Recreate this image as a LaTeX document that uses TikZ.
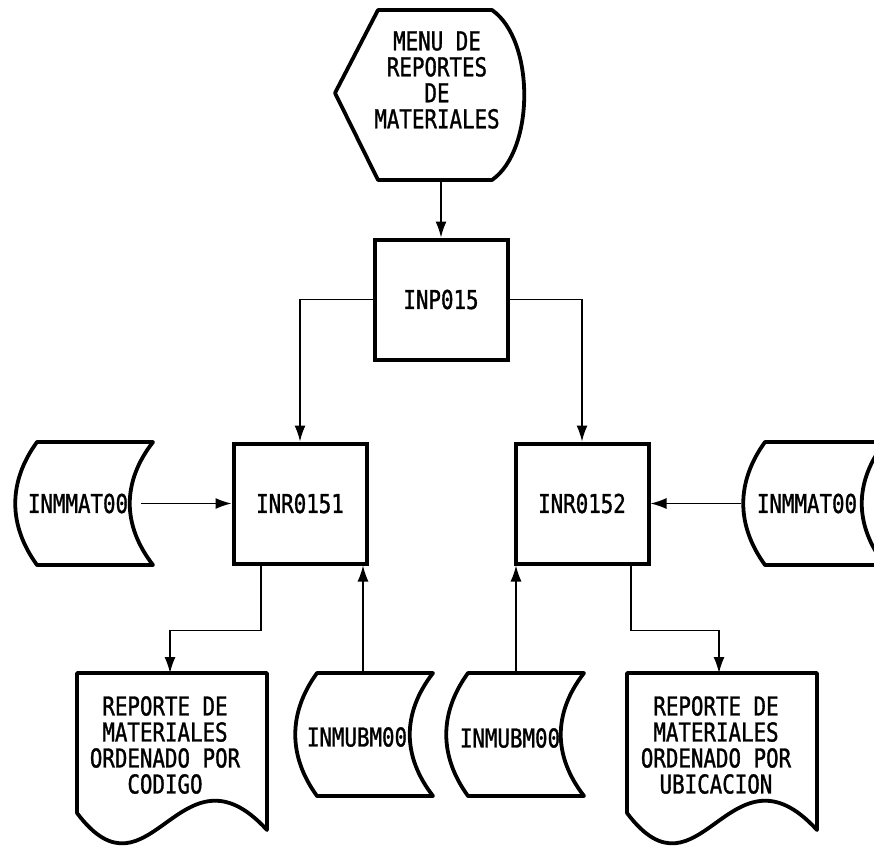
\documentclass[tikz,border=0pt]{standalone}
\usepackage{fontspec}
\setmonofont[FakeStretch=0.8,FakeBold=1.2]{DejaVu Sans Mono}
\usepackage{tikz}
\usetikzlibrary{arrows,arrows.meta}
\tikzset{arrowin/.style={<-,>={Latex[length=16pt,width=11pt]},line width=1.4pt},arrowout/.style={->,>={Latex[length=16pt,width=11pt]},line width=1.4pt},box/.style={rectangle,minimum width=133pt,minimum height=120pt,text centered,draw=black,line width=4pt},outline/.style={draw=black,line width=3.8pt,line join=round}}
\usepackage{xcolor}

\begin{document}
\begin{tikzpicture} [x=1pt,y=-1pt,align=center,inner sep=0pt,font=\ttfamily\fontsize{26}{26}\selectfont]

\useasboundingbox (0,0) rectangle (874,848);

% menu (display)
\draw[outline] (378,10) -- (492,10) .. controls (535,40) and (535,150) .. (492,180) -- (378,180) -- (335,93) -- cycle;
\node (menu) at (437,80) {MENU DE\\REPORTES\\DE\\MATERIALES};
\coordinate (menub) at (441,180);

\node (inp) at (441,299.5)[box]{INP015}
  edge [arrowin] (menub);

\node (inr1) at (300,503.5)[box]{INR0151};
\node (inr2) at (582,503.5)[box]{INR0152};
\draw[arrowout] (inp.west) -| (inr1.north);
\draw[arrowout] (inp.east) -| (inr2.north);

% archivos
\draw[outline] (37,442) -- (153,442) .. controls (122,482) and (122,525) .. (153,565) -- (37,565) .. controls (8,525) and (8,482) .. (37,442) -- cycle;
\draw[outline] (765,442) -- (885,442) .. controls (854,482) and (854,525) .. (885,565) -- (765,565) .. controls (736,525) and (736,482) .. (765,442) -- cycle;
\draw[outline] (317,673) -- (433,673) .. controls (402,713) and (402,756) .. (433,796) -- (317,796) .. controls (288,756) and (288,713) .. (317,673) -- cycle;
\draw[outline] (468,673) -- (584,673) .. controls (553,713) and (553,756) .. (584,796) -- (468,796) .. controls (439,756) and (439,713) .. (468,673) -- cycle;
\node (mat1) at (78,503.5) {INMMAT00};
\node (mat2) at (807,503.5) {INMMAT00};
\node (ubm1) at (357,737) {INMUBM00};
\node (ubm2) at (510,738) {INMUBM00};
\coordinate (mat1e) at (141,503.5);
\coordinate (mat2w) at (741,503.5);
\coordinate (ubm1n) at (363,673);
\coordinate (ubm2n) at (516,673);
\draw[arrowout] (mat1e) -- (inr1.west);
\draw[arrowout] (mat2w) -- (inr2.east);
\draw[arrowout] (ubm1n) -- (ubm1n |- inr1.south);
\draw[arrowout] (ubm2n) -- (ubm2n |- inr2.south);

% reportes
\draw[outline] (77,673) -- (267,673) -- (267,830) .. controls (180,735) and (150,910) .. (77,813) -- cycle;
\draw[outline] (627,673) -- (817,673) -- (817,830) .. controls (730,735) and (700,910) .. (627,813) -- cycle;
\node (doc1) at (165,745) {REPORTE DE\\MATERIALES\\ORDENADO POR\\CODIGO};
\node (doc2) at (716,745) {REPORTE DE\\MATERIALES\\ORDENADO POR\\UBICACION};
\coordinate (doc1n) at (170,673);
\coordinate (doc2n) at (719,673);
\draw[arrowout] ([xshift=-39pt]inr1.south) -- ++(0,65) -| (doc1n);
\draw[arrowout] ([xshift=49pt]inr2.south) -- ++(0,65) -| (doc2n);

\end{tikzpicture}
\end{document}
